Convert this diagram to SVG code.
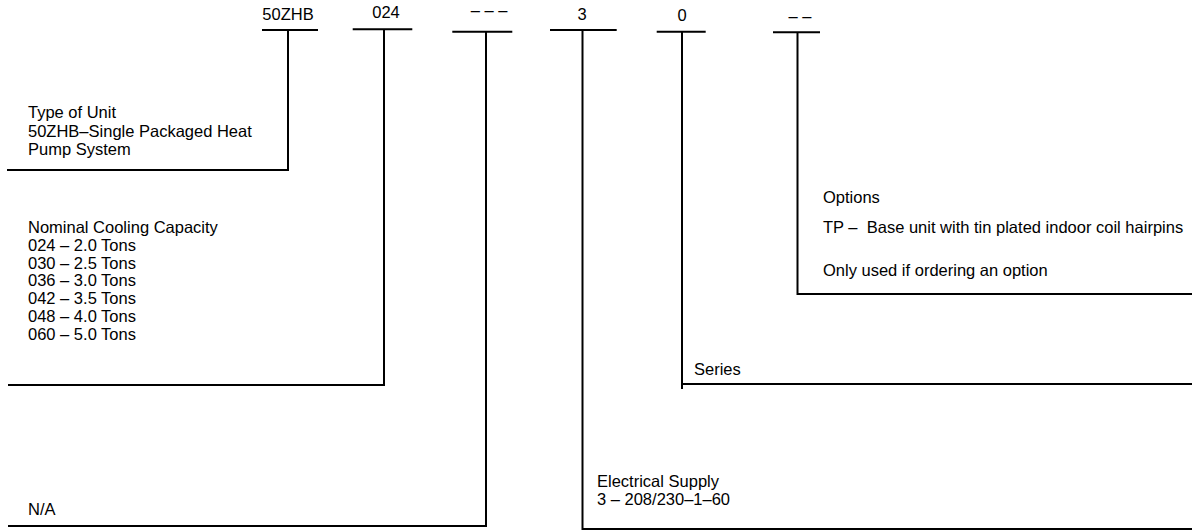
<svg xmlns="http://www.w3.org/2000/svg" width="1192" height="531" viewBox="0 0 1192 531">
<style>
text{font-family:"Liberation Sans",Arial,sans-serif;font-size:16.5px;fill:#000}
.c{text-anchor:middle}
.ln{stroke:#000;stroke-width:2;fill:none;stroke-linecap:butt}
</style>
<rect width="1192" height="531" fill="#fff"/>
<g id="code-unit"><text class="c" x="288" y="20">50ZHB</text></g>
<g id="code-capacity"><text class="c" x="386" y="17.5">024</text></g>
<g id="code-na"><text class="c" x="489" y="15.5">– – –</text></g>
<g id="code-electrical"><text class="c" x="582" y="19.5">3</text></g>
<g id="code-series"><text class="c" x="682" y="20.5">0</text></g>
<g id="code-options"><text class="c" x="800" y="22">– –</text></g>

<g id="desc-unit">
<text x="28" y="118">Type of Unit</text>
<text x="28" y="136.5">50ZHB–Single Packaged Heat</text>
<text x="28" y="155">Pump System</text>
</g>
<g id="desc-capacity">
<text x="28" y="233">Nominal Cooling Capacity</text>
<text x="28" y="250.8">024 – 2.0 Tons</text>
<text x="28" y="268.6">030 – 2.5 Tons</text>
<text x="28" y="286.4">036 – 3.0 Tons</text>
<text x="28" y="304.2">042 – 3.5 Tons</text>
<text x="28" y="322">048 – 4.0 Tons</text>
<text x="28" y="339.8">060 – 5.0 Tons</text>
</g>
<g id="desc-na"><text x="28" y="515">N/A</text></g>
<g id="desc-electrical">
<text x="597" y="487">Electrical Supply</text>
<text x="597" y="505">3 – 208/230–1–60</text>
</g>
<g id="desc-series"><text x="694" y="375">Series</text></g>
<g id="desc-options">
<text x="823" y="203">Options</text>
<text x="823" y="232.5">TP –&#160; Base unit with tin plated indoor coil hairpins</text>
<text x="823" y="276">Only used if ordering an option</text>
</g>

<g id="connectors" class="ln">
<path d="M262 30H318M288 30V170H7"/>
<path d="M352.7 29.3H412.3M384 29.3V385H8"/>
<path d="M452.3 31.7H512.3M486 31.7V526H8"/>
<path d="M550 30H616.7M582.5 30V529H1192"/>
<path d="M656.7 31.7H705.7M682 31.7V389M682 384H1192"/>
<path d="M773 32.3H820M797.5 32.3V294H1192"/>
</g>
</svg>
